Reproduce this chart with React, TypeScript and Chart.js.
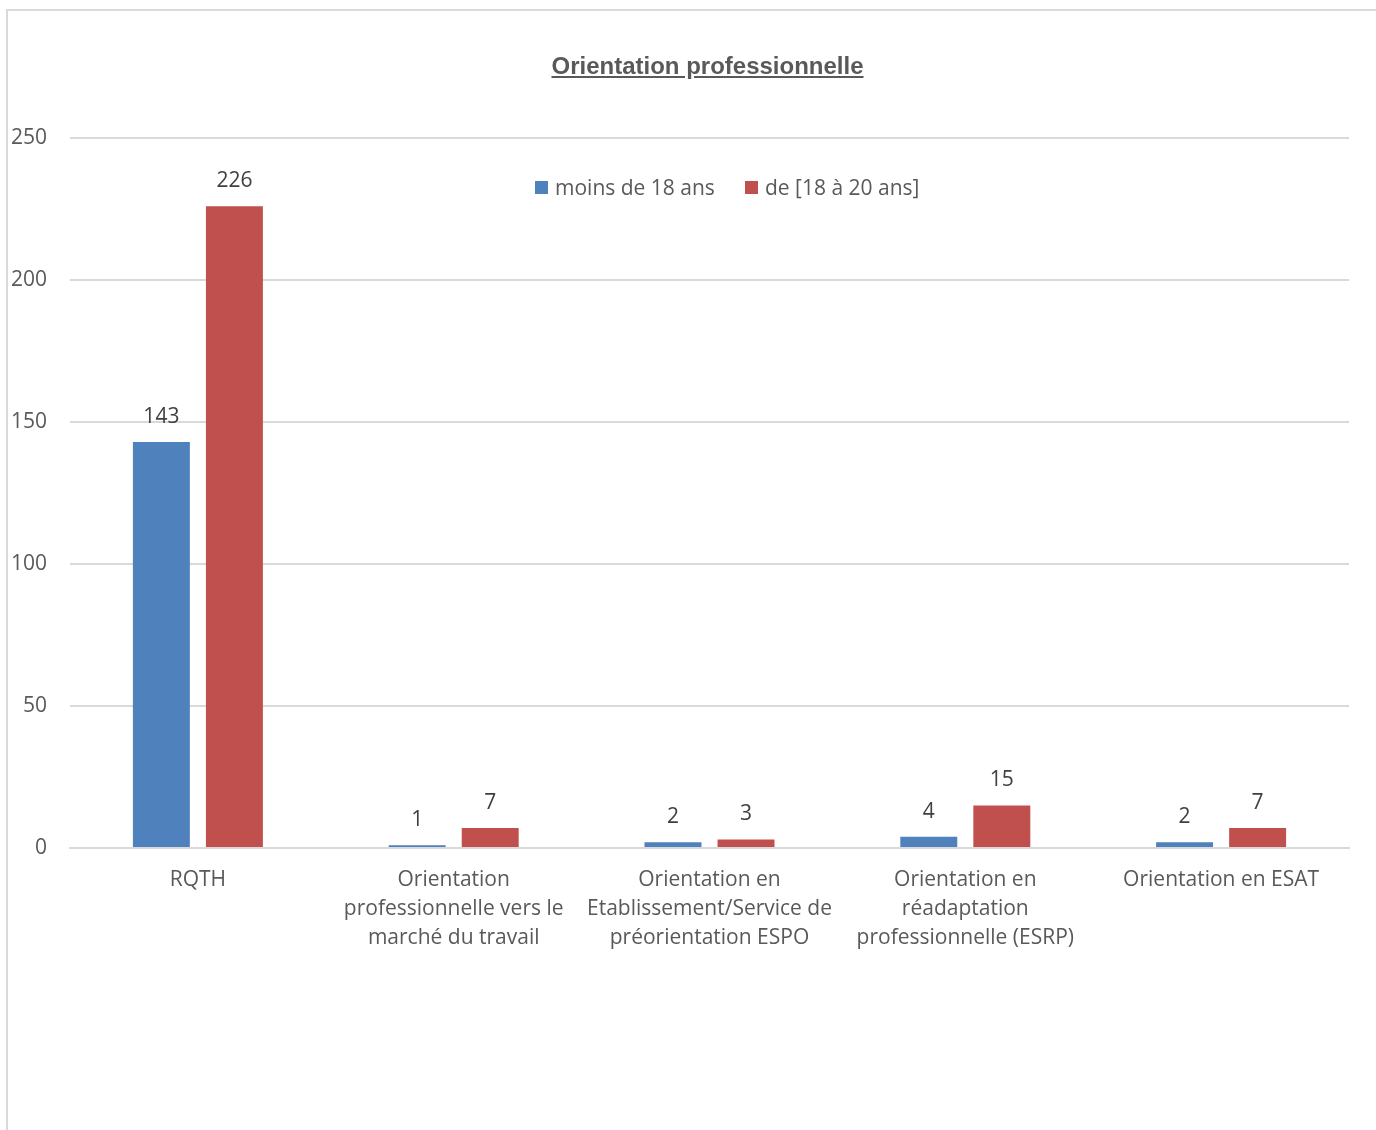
import React, { useEffect, useRef } from "react";
import { Chart, registerables } from "chart.js";

Chart.register(...registerables);

const categories: (string | string[])[] = [
  "RQTH",
  ["Orientation", "professionnelle vers le", "marché du travail"],
  ["Orientation en", "Etablissement/Service de", "préorientation ESPO"],
  ["Orientation en", "réadaptation", "professionnelle (ESRP)"],
  "Orientation en ESAT",
];
const seriesNames = ["moins de 18 ans", "de [18 à 20 ans]"];
const under18 = [143, 1, 2, 4, 2];
const from18to20 = [226, 7, 3, 15, 7];
const yTicks = [0, 50, 100, 150, 200, 250];

const BLUE = "#4F81BD";
const RED = "#C0504D";
const TEXT = "#595959";
const FONT = "'Open Sans', 'Noto Sans', sans-serif";
const FS = 21;

const dataLabels = {
  id: "dataLabels",
  afterDatasetsDraw(chart: any) {
    const ctx = chart.ctx;
    ctx.save();
    ctx.font = `${FS}px ${FONT}`;
    ctx.fillStyle = "#404040";
    ctx.textAlign = "center";
    ctx.textBaseline = "middle";
    chart.data.datasets.forEach((ds: any, i: number) => {
      const meta = chart.getDatasetMeta(i);
      meta.data.forEach((el: any, j: number) => {
        ctx.fillText(String(ds.data[j]), el.x, el.y - 25);
      });
    });
    ctx.restore();
  },
};

export default function App() {
  const ref = useRef<HTMLCanvasElement>(null);
  useEffect(() => {
    if (!ref.current) return;
    const chart = new Chart(ref.current, {
      type: "bar",
      data: {
        labels: categories,
        datasets: [
          { label: seriesNames[0], data: under18, backgroundColor: BLUE, categoryPercentage: 0.571, barPercentage: 0.78 },
          { label: seriesNames[1], data: from18to20, backgroundColor: RED, categoryPercentage: 0.571, barPercentage: 0.78 },
        ],
      },
      options: {
        animation: false,
        responsive: false,
        maintainAspectRatio: false,
        layout: { padding: { top: 138, right: 27, left: 0, bottom: 0 } },
        plugins: { legend: { display: false }, title: { display: false }, tooltip: { enabled: false } },
        scales: {
          x: {
            grid: { display: false, drawTicks: false },
            border: { display: true, color: "#D9D9D9", width: 2 },
            ticks: {
              color: TEXT,
              font: { family: FONT, size: FS, lineHeight: 1.4 },
              padding: 17,
              maxRotation: 0,
              autoSkip: false,
            },
            afterFit(scale: any) {
              scale.height = 282;
            },
          },
          y: {
            min: 0,
            max: 250,
            afterBuildTicks(scale: any) {
              scale.ticks = yTicks.map((v) => ({ value: v }));
            },
            grid: { color: "#D9D9D9", lineWidth: 2, drawTicks: false },
            border: { display: false },
            ticks: { color: TEXT, font: { family: FONT, size: FS }, padding: 23 },
            afterFit(scale: any) {
              scale.width = 70;
            },
          },
        },
      },
      plugins: [dataLabels],
    });
    return () => chart.destroy();
  }, []);

  const legendItem = (color: string, text: string, left: number) => (
    <div style={{ position: "absolute", left, top: 173, display: "flex", alignItems: "center", fontFamily: FONT, fontSize: FS, color: TEXT, whiteSpace: "nowrap" }}>
      <span style={{ display: "inline-block", width: 13, height: 13, background: color, marginRight: 7 }} />
      <span>{text}</span>
    </div>
  );

  return (
    <div style={{ position: "absolute", left: 0, top: 0, width: 1376, height: 1130, overflow: "hidden", background: "#fff" }}>
      <div style={{ position: "absolute", left: 6, top: 9, width: 1400, height: 1200, borderLeft: "2px solid #D9D9D9", borderTop: "2px solid #D9D9D9" }} />
      <canvas ref={ref} width={1376} height={1130} style={{ position: "absolute", left: 0, top: 0, width: 1376, height: 1130 }} />
      <div style={{ position: "absolute", left: 0, width: 1415, top: 52, textAlign: "center", fontFamily: "'Liberation Sans', Arial, sans-serif", fontWeight: "bold", fontSize: 24, color: TEXT, textDecoration: "underline" }}>
        Orientation professionnelle
      </div>
      {legendItem(BLUE, seriesNames[0], 535)}
      {legendItem(RED, seriesNames[1], 745)}
    </div>
  );
}
